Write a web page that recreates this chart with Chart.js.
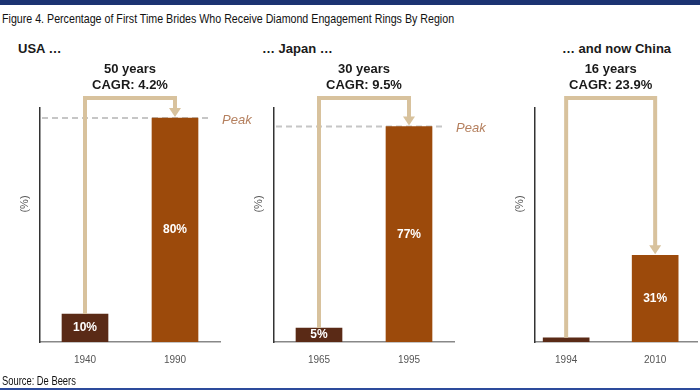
<!DOCTYPE html>
<html>
<head>
<meta charset="utf-8">
<script src="https://cdn.jsdelivr.net/npm/chart.js@4.4.1/dist/chart.umd.min.js"></script>
<style>
  body { margin: 0; background: #fff; }
  #page { position: relative; width: 700px; height: 391px; overflow: hidden; font-family: "Liberation Sans", Arial, sans-serif; }
  #topBar { position: absolute; left: 0; top: 0; width: 700px; height: 5px; background: #1c3372; }
  #title { position: absolute; left: 2px; top: 11px; font-size: 13px; color: #111; white-space: nowrap; transform: scaleX(0.82); transform-origin: left top; }
  .region { position: absolute; top: 41px; font-weight: bold; font-size: 13px; color: #1a1a1a; white-space: nowrap; }
  #source { position: absolute; left: 2px; top: 374px; font-size: 12px; color: #111; white-space: nowrap; transform: scaleX(0.78); transform-origin: left top; }
  #bottomBar { position: absolute; left: 0; top: 388px; width: 700px; height: 2px; background: #2d4b9c; }
  canvas { position: absolute; top: 0; }
</style>
</head>
<body>
<div id="page">
  <div id="topBar"></div>
  <div id="title">Figure 4. Percentage of First Time Brides Who Receive Diamond Engagement Rings By Region</div>
  <div class="region" style="left:18px">USA …</div>
  <div class="region" style="left:262px">… Japan …</div>
  <div class="region" style="left:562px">… and now China</div>
  <canvas id="panel0" width="262" height="391" style="left:0px"></canvas>
  <canvas id="panel1" width="262" height="391" style="left:230px"></canvas>
  <canvas id="panel2" width="210" height="391" style="left:490px"></canvas>
  <div id="source">Source: De Beers</div>
  <div id="bottomBar"></div>
</div>
<script>
// data
const years = [
  ["1940", "1990"],
  ["1965", "1995"],
  ["1994", "2010"],
];
const shares = [
  [10, 80],
  [5, 77],
  [1.5, 31],
];
const spans = ["50 years", "30 years", "16 years"];
const cagrs = ["CAGR: 4.2%", "CAGR: 9.5%", "CAGR: 23.9%"];
const peaks = [80, 77, null];

const darkBar = "#5a2a16";
const rustBar = "#9c4a0b";
const tan = "#d8c29d";

// where each panel's plot sits inside its canvas
const panelLayout = [
  { left: 40, right: 42, xMin: -0.5, xMax: 1.5 },
  { left: 44, right: 38, xMin: -0.5, xMax: 1.5 },
  { left: 45, right: 3, xMin: -0.35, xMax: 1.47 },
];

const decor = {
  id: "decor",
  beforeDatasetsDraw(chart, args, opts) {
    const p = opts.panel;
    if (peaks[p] == null) return;
    const ctx = chart.ctx;
    const area = chart.chartArea;
    const bars = chart.getDatasetMeta(0).data;
    const y = chart.scales.y.getPixelForValue(peaks[p]);
    const rightEdge = bars[1].x + bars[1].width / 2;
    ctx.save();
    ctx.strokeStyle = "#c6c6c6";
    ctx.lineWidth = 2;
    ctx.setLineDash([6, 4]);
    ctx.beginPath();
    ctx.moveTo(area.left + 2, y);
    ctx.lineTo(rightEdge + 12, y);
    ctx.stroke();
    ctx.setLineDash([]);
    ctx.fillStyle = "#b5805f";
    ctx.font = "italic 13px 'Liberation Sans', Arial, sans-serif";
    ctx.textAlign = "left";
    ctx.textBaseline = "middle";
    ctx.fillText("Peak", rightEdge + 24, y + 2);
    ctx.restore();
  },
  afterDatasetsDraw(chart, args, opts) {
    const p = opts.panel;
    const ctx = chart.ctx;
    const area = chart.chartArea;
    const bars = chart.getDatasetMeta(0).data;
    const a = bars[0];
    const b = bars[1];
    const top = area.top - 10;

    ctx.save();
    // value labels inside the bars
    ctx.fillStyle = "#ffffff";
    ctx.font = "bold 12px 'Liberation Sans', Arial, sans-serif";
    ctx.textAlign = "center";
    ctx.textBaseline = "middle";
    bars.forEach((bar, i) => {
      const v = shares[p][i];
      if (v < 3) return;
      ctx.fillText(v + "%", bar.x, (bar.y + bar.base) / 2);
    });

    // growth bracket with arrow
    ctx.strokeStyle = tan;
    ctx.fillStyle = tan;
    ctx.lineWidth = 4;
    ctx.lineJoin = "miter";
    ctx.beginPath();
    ctx.moveTo(a.x, a.y);
    ctx.lineTo(a.x, top);
    ctx.lineTo(b.x, top);
    ctx.lineTo(b.x, b.y - 9);
    ctx.stroke();
    ctx.beginPath();
    ctx.moveTo(b.x - 6, b.y - 10);
    ctx.lineTo(b.x + 6, b.y - 10);
    ctx.lineTo(b.x, b.y - 1);
    ctx.closePath();
    ctx.fill();

    // span and growth text
    ctx.fillStyle = "#1a1a1a";
    ctx.font = "bold 13px 'Liberation Sans', Arial, sans-serif";
    const mid = (a.x + b.x) / 2;
    ctx.fillText(spans[p], mid, top - 29);
    ctx.fillText(cagrs[p], mid, top - 13);

    // axis unit
    ctx.fillStyle = "#555";
    ctx.font = "11px 'Liberation Sans', Arial, sans-serif";
    ctx.translate(area.left - 15, 204);
    ctx.rotate(-Math.PI / 2);
    ctx.fillText("(%)", 0, 0);
    ctx.restore();
  },
};

function drawPanel(p) {
  const lay = panelLayout[p];
  const ctx = document.getElementById("panel" + p).getContext("2d");
  return new Chart(ctx, {
    type: "bar",
    data: {
      datasets: [
        {
          data: shares[p].map((v, i) => ({ x: i, y: v })),
          backgroundColor: [darkBar, rustBar],
          barThickness: 46,
          borderWidth: 0,
        },
      ],
    },
    options: {
      responsive: false,
      animation: false,
      layout: { padding: { left: lay.left, right: lay.right, top: 108, bottom: 19 } },
      plugins: {
        legend: { display: false },
        tooltip: { enabled: false },
        decor: { panel: p },
      },
      scales: {
        x: {
          type: "linear",
          offset: false,
          min: lay.xMin,
          max: lay.xMax,
          afterBuildTicks: (s) => {
            s.ticks = years[p].map((y, i) => ({ value: i }));
          },
          afterFit: (s) => {
            s.height = 30;
          },
          grid: { display: false },
          border: { display: true, color: "#888", width: 1.5 },
          ticks: {
            color: "#555",
            font: { size: 10, family: "'Liberation Sans', Arial, sans-serif" },
            padding: 4,
            maxRotation: 0,
            callback: (v) => years[p][v],
          },
        },
        y: {
          min: 0,
          max: 83.6,
          afterFit: (s) => {
            s.width = 0;
          },
          grid: { display: false },
          border: { display: true, color: "#333", width: 1.5 },
          ticks: { display: false },
        },
      },
    },
    plugins: [decor],
  });
}

[0, 1, 2].forEach(drawPanel);
</script>
</body>
</html>
